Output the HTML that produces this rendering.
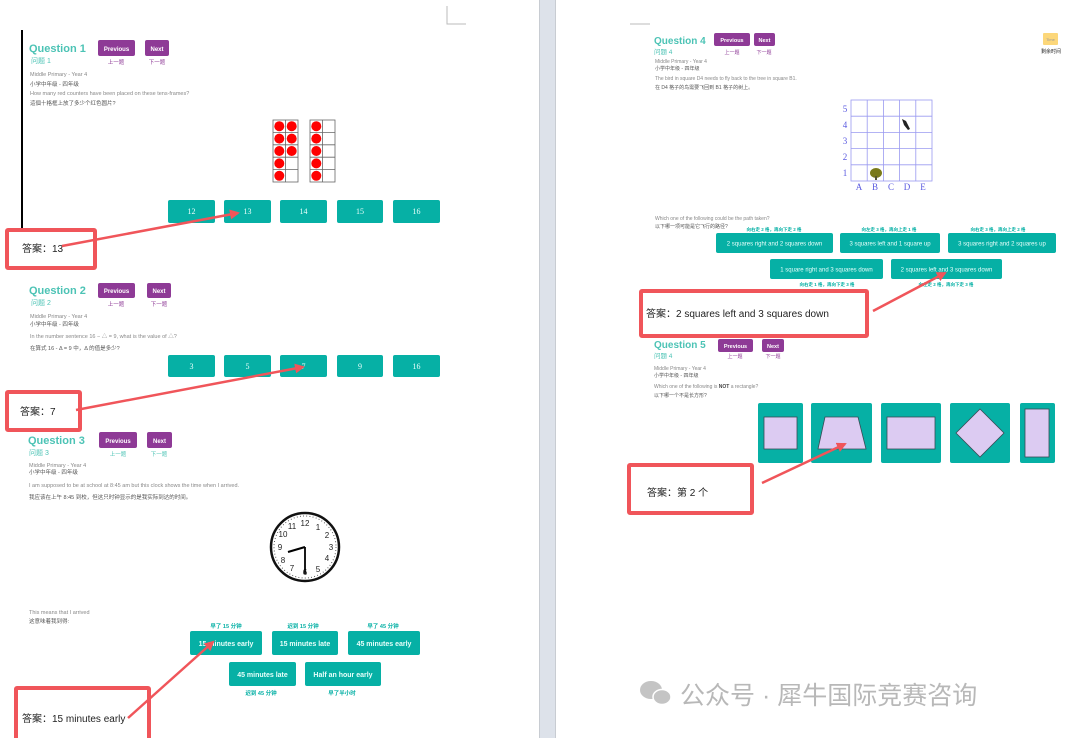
<!DOCTYPE html>
<html><head><meta charset="utf-8"><style>
html,body{margin:0;padding:0;background:#fff;}
svg{display:block;font-family:"Liberation Sans","Noto Sans CJK SC",sans-serif;}
</style></head><body>
<svg width="1080" height="738" viewBox="0 0 1080 738" xmlns="http://www.w3.org/2000/svg">
<defs>
<marker id="ah" markerWidth="10" markerHeight="10" refX="8" refY="5" orient="auto" markerUnits="userSpaceOnUse"><path d="M0,0 L10,5 L0,10 z" fill="#f0555a"/></marker>
</defs>
<rect x="0" y="0" width="1080" height="738" fill="#fff"/>
<rect x="539" y="0" width="17" height="738" fill="#dde2ea"/>
<line x1="539.5" y1="0" x2="539.5" y2="738" stroke="#c8ccd2"/>
<line x1="555.5" y1="0" x2="555.5" y2="738" stroke="#c8ccd2"/>
<path d="M447,6 V24 H466" fill="none" stroke="#bbb"/>
<path d="M630,24 H650" fill="none" stroke="#bbb"/>
<line x1="22" y1="30" x2="22" y2="228" stroke="#000" stroke-width="2"/>

<g font-size="5.5" fill="#888">
<!-- Q1 -->
<text x="29" y="52" font-size="11" font-weight="bold" fill="#4cc3b5">Question 1</text>
<text x="31" y="63" font-size="7" fill="#4cc3b5">问题 1</text>
<rect x="98" y="40" width="37" height="16" rx="2" fill="#8e3a96"/><text x="116.5" y="51" font-size="6" fill="#fff" text-anchor="middle" font-weight="bold">Previous</text>
<rect x="145" y="40" width="24" height="16" rx="2" fill="#8e3a96"/><text x="157" y="51" font-size="6" fill="#fff" text-anchor="middle" font-weight="bold">Next</text>
<text x="116" y="64" fill="#8e3a96" text-anchor="middle">上一题</text><text x="157" y="64" fill="#8e3a96" text-anchor="middle">下一题</text>
<text x="30" y="76">Middle Primary - Year 4</text>
<text x="30" y="86" fill="#555">小学中年级 - 四年级</text>
<text x="30" y="95">How many red counters have been placed on these tens-frames?</text>
<text x="30" y="105" fill="#555">這個十格框上放了多少个红色圆片?</text>
</g>
<g stroke="#666" stroke-width="0.8" fill="#fff">
<rect x="273" y="120" width="25" height="62"/><rect x="310" y="120" width="25" height="62"/>
<path d="M285.5,120V182M273,132.4H298M273,144.8H298M273,157.2H298M273,169.6H298"/>
<path d="M322.5,120V182M310,132.4H335M310,144.8H335M310,157.2H335M310,169.6H335"/>
</g>
<g fill="#f00">
<circle cx="279.3" cy="126.2" r="5"/><circle cx="291.7" cy="126.2" r="5"/>
<circle cx="279.3" cy="138.6" r="5"/><circle cx="291.7" cy="138.6" r="5"/>
<circle cx="279.3" cy="151" r="5"/><circle cx="291.7" cy="151" r="5"/>
<circle cx="279.3" cy="163.4" r="5"/><circle cx="279.3" cy="175.8" r="5"/>
<circle cx="316.3" cy="126.2" r="5"/><circle cx="316.3" cy="138.6" r="5"/><circle cx="316.3" cy="151" r="5"/><circle cx="316.3" cy="163.4" r="5"/><circle cx="316.3" cy="175.8" r="5"/>
</g>
<g fill="#06b0a5">
<rect x="168" y="200" width="47" height="23" rx="2"/><rect x="224" y="200" width="47" height="23" rx="2"/><rect x="280" y="200" width="47" height="23" rx="2"/><rect x="337" y="200" width="46" height="23" rx="2"/><rect x="393" y="200" width="47" height="23" rx="2"/>
<rect x="168" y="355" width="47" height="22" rx="2"/><rect x="224" y="355" width="47" height="22" rx="2"/><rect x="280" y="355" width="47" height="22" rx="2"/><rect x="337" y="355" width="46" height="22" rx="2"/><rect x="393" y="355" width="47" height="22" rx="2"/>
</g>
<g fill="#e8fffb" font-size="8" text-anchor="middle" font-family="Liberation Serif,serif">
<text x="191.5" y="214">12</text><text x="247.5" y="214">13</text><text x="303.5" y="214">14</text><text x="360" y="214">15</text><text x="416.5" y="214">16</text>
<text x="191.5" y="369">3</text><text x="247.5" y="369">5</text><text x="303.5" y="369">7</text><text x="360" y="369">9</text><text x="416.5" y="369">16</text>
</g>

<!-- Q2 -->
<g font-size="5.5" fill="#888">
<text x="29" y="294" font-size="11" font-weight="bold" fill="#4cc3b5">Question 2</text>
<text x="31" y="305" font-size="7" fill="#4cc3b5">问题 2</text>
<rect x="98" y="283" width="37" height="15" rx="2" fill="#8e3a96"/><text x="116.5" y="293" font-size="6" fill="#fff" text-anchor="middle" font-weight="bold">Previous</text>
<rect x="147" y="283" width="24" height="15" rx="2" fill="#8e3a96"/><text x="159" y="293" font-size="6" fill="#fff" text-anchor="middle" font-weight="bold">Next</text>
<text x="116" y="306" fill="#8e3a96" text-anchor="middle">上一题</text><text x="159" y="306" fill="#8e3a96" text-anchor="middle">下一题</text>
<text x="30" y="318">Middle Primary - Year 4</text>
<text x="30" y="326" fill="#555">小学中年级 - 四年级</text>
<text x="30" y="338">In the number sentence 16 − △ = 9, what is the value of △?</text>
<text x="30" y="350" fill="#555">在算式 16 - Δ = 9 中，Δ 的值是多少?</text>

<!-- Q3 -->
<text x="28" y="444" font-size="11" font-weight="bold" fill="#4cc3b5">Question 3</text>
<text x="29" y="455" font-size="7" fill="#4cc3b5">问题 3</text>
<rect x="99" y="432" width="38" height="16" rx="2" fill="#8e3a96"/><text x="118" y="443" font-size="6" fill="#fff" text-anchor="middle" font-weight="bold">Previous</text>
<rect x="147" y="432" width="25" height="16" rx="2" fill="#8e3a96"/><text x="159.5" y="443" font-size="6" fill="#fff" text-anchor="middle" font-weight="bold">Next</text>
<text x="118" y="456" fill="#4cc3b5" text-anchor="middle">上一题</text><text x="159" y="456" fill="#4cc3b5" text-anchor="middle">下一题</text>
<text x="29" y="467">Middle Primary - Year 4</text>
<text x="29" y="474" fill="#555">小学中年级 - 四年级</text>
<text x="29" y="487">I am supposed to be at school at 8:45 am but this clock shows the time when I arrived.</text>
<text x="29" y="499" fill="#555">我应该在上午 8:45 到校，但这只时钟显示的是我实际到达的时间。</text>
<text x="29" y="614">This means that I arrived</text>
<text x="29" y="623" fill="#555">这意味着我到得:</text>
</g>
<g>
<circle cx="305" cy="547" r="34" fill="#fff" stroke="#111" stroke-width="2.5"/>
<circle cx="305" cy="547" r="31" fill="none" stroke="#333" stroke-width="1" stroke-dasharray="0.8 2.4"/>
<g font-size="8" fill="#222" text-anchor="middle" font-family="Liberation Sans,sans-serif">
<text x="305" y="526">12</text><text x="318" y="530">1</text><text x="327" y="538">2</text><text x="331" y="550">3</text><text x="327" y="561">4</text><text x="318" y="572">5</text><text x="305" y="575">6</text><text x="292" y="571">7</text><text x="283" y="563">8</text><text x="280" y="550">9</text><text x="283" y="537">10</text><text x="292" y="529">11</text>
</g>
<line x1="305" y1="547" x2="288" y2="552" stroke="#000" stroke-width="2.2"/>
<line x1="305" y1="547" x2="305" y2="574" stroke="#000" stroke-width="1.8"/>
</g>
<g fill="#06b0a5">
<rect x="190" y="631" width="72" height="24" rx="2"/><rect x="272" y="631" width="66" height="24" rx="2"/><rect x="348" y="631" width="72" height="24" rx="2"/>
<rect x="229" y="662" width="67" height="24" rx="2"/><rect x="305" y="662" width="76" height="24" rx="2"/>
</g>
<g font-size="7" text-anchor="middle" fill="#e8fffb" font-weight="bold">
<text x="226" y="646">15 minutes early</text><text x="305" y="646">15 minutes late</text><text x="384" y="646">45 minutes early</text>
<text x="262.5" y="677">45 minutes late</text><text x="343" y="677">Half an hour early</text>
</g>
<g font-size="5.5" text-anchor="middle" fill="#06b0a5" font-weight="bold">
<text x="226" y="628">早了 15 分钟</text><text x="303" y="628">迟到 15 分钟</text><text x="383" y="628">早了 45 分钟</text>
<text x="261" y="695">迟到 45 分钟</text><text x="342" y="695">早了半小时</text>
</g>

<!-- Right page Q4 -->
<g font-size="5" fill="#888">
<text x="654" y="44" font-size="10" font-weight="bold" fill="#4cc3b5">Question 4</text>
<text x="654" y="54" font-size="6.5" fill="#4cc3b5">问题 4</text>
<rect x="714" y="33" width="36" height="13" rx="2" fill="#8e3a96"/><text x="732" y="42" font-size="5.5" fill="#fff" text-anchor="middle" font-weight="bold">Previous</text>
<rect x="754" y="33" width="21" height="13" rx="2" fill="#8e3a96"/><text x="764.5" y="42" font-size="5.5" fill="#fff" text-anchor="middle" font-weight="bold">Next</text>
<text x="732" y="54" fill="#8e3a96" text-anchor="middle">上一题</text><text x="764" y="54" fill="#8e3a96" text-anchor="middle">下一题</text>
<rect x="1043" y="33" width="15" height="12" rx="1" fill="#fcd77a"/><text x="1050.5" y="41" font-size="4" fill="#999" text-anchor="middle">Time</text>
<text x="1051" y="53" font-size="5" fill="#222" text-anchor="middle">剩余时间</text>
<text x="655" y="63">Middle Primary - Year 4</text>
<text x="655" y="70" fill="#555">小学中年级 - 四年级</text>
<text x="655" y="80">The bird in square D4 needs to fly back to the tree in square B1.</text>
<text x="655" y="89" fill="#555">在 D4 格子的鸟需要飞回到 B1 格子的树上。</text>
<text x="655" y="220">Which one of the following could be the path taken?</text>
<text x="655" y="228" fill="#555">以下哪一项可能是它飞行的路径?</text>
</g>
<g stroke="#9a9af0" stroke-width="0.8" fill="none">
<rect x="851" y="100" width="81" height="81"/>
<path d="M867.2,100V181M883.4,100V181M899.6,100V181M915.8,100V181M851,116.2H932M851,132.4H932M851,148.6H932M851,164.8H932"/>
</g>
<g font-family="Liberation Serif,serif" font-size="9" fill="#5a5ae0" text-anchor="middle">
<text x="845" y="112">5</text><text x="845" y="128">4</text><text x="845" y="144">3</text><text x="845" y="160">2</text><text x="845" y="176">1</text>
<text x="859" y="190">A</text><text x="875" y="190">B</text><text x="891" y="190">C</text><text x="907" y="190">D</text><text x="923" y="190">E</text>
</g>
<ellipse cx="876" cy="173" rx="6" ry="5" fill="#7a7a1a"/><rect x="875" y="176" width="2" height="4" fill="#553"/>
<path d="M902,119 l4,2 l4,8 l-2,1 l-4,-5 z" fill="#222"/>
<g fill="#06b0a5">
<rect x="716" y="233" width="117" height="20" rx="2"/><rect x="840" y="233" width="100" height="20" rx="2"/><rect x="948" y="233" width="108" height="20" rx="2"/>
<rect x="770" y="259" width="113" height="20" rx="2"/><rect x="891" y="259" width="111" height="20" rx="2"/>
</g>
<g font-size="6" text-anchor="middle" fill="#e8fffb">
<text x="774.5" y="245.5">2 squares right and 2 squares down</text><text x="890" y="245.5">3 squares left and 1 square up</text><text x="1002" y="245.5">3 squares right and 2 squares up</text>
<text x="826.5" y="271.5">1 square right and 3 squares down</text><text x="946.5" y="271.5">2 squares left and 3 squares down</text>
</g>
<g font-size="4.5" text-anchor="middle" fill="#06b0a5" font-weight="bold">
<text x="774" y="231">向右走 2 格，再向下走 2 格</text><text x="889" y="231">向左走 3 格，再向上走 1 格</text><text x="998" y="231">向右走 3 格，再向上走 2 格</text>
<text x="827" y="286">向右走 1 格，再向下走 3 格</text><text x="946" y="286">向左走 2 格，再向下走 3 格</text>
</g>

<!-- Q5 -->
<g font-size="5" fill="#888">
<text x="654" y="348" font-size="10" font-weight="bold" fill="#4cc3b5">Question 5</text>
<text x="654" y="358" font-size="6.5" fill="#4cc3b5">问题 4</text>
<rect x="718" y="339" width="35" height="13" rx="2" fill="#8e3a96"/><text x="735.5" y="348" font-size="5.5" fill="#fff" text-anchor="middle" font-weight="bold">Previous</text>
<rect x="762" y="339" width="22" height="13" rx="2" fill="#8e3a96"/><text x="773" y="348" font-size="5.5" fill="#fff" text-anchor="middle" font-weight="bold">Next</text>
<text x="735" y="358" fill="#8e3a96" text-anchor="middle">上一题</text><text x="773" y="358" fill="#8e3a96" text-anchor="middle">下一题</text>
<text x="654" y="370">Middle Primary - Year 4</text>
<text x="654" y="377" fill="#555">小学中年级 - 四年级</text>
<text x="654" y="388">Which one of the following is <tspan font-weight="bold" fill="#444">NOT</tspan> a rectangle?</text>
<text x="654" y="397" fill="#555">以下哪一个不是长方形?</text>
</g>
<g fill="#06b0a5">
<rect x="758" y="403" width="45" height="60" rx="2"/><rect x="811" y="403" width="61" height="60" rx="2"/><rect x="881" y="403" width="60" height="60" rx="2"/><rect x="950" y="403" width="60" height="60" rx="2"/><rect x="1020" y="403" width="35" height="60" rx="2"/>
</g>
<g fill="#dccbf2" stroke="#3a4a55" stroke-width="0.8">
<rect x="764" y="417" width="33" height="32"/>
<path d="M825,417 H858 L866,449 H818 Z"/>
<rect x="887" y="417" width="48" height="32"/>
<path d="M980,409 L1004,433 L980,457 L956,433 Z"/>
<rect x="1025" y="409" width="24" height="48"/>
</g>

<!-- Answer boxes -->
<g fill="none" stroke="#f0555a" stroke-width="4">
<rect x="7" y="230" width="88" height="38" rx="1"/>
<rect x="7" y="392" width="73" height="38" rx="1"/>
<rect x="16" y="688" width="133" height="52" rx="1"/>
<rect x="641" y="291" width="226" height="45" rx="1"/>
<rect x="629" y="465" width="123" height="48" rx="1"/>
</g>
<g font-size="10" fill="#222">
<text x="22" y="252">答案：13</text>
<text x="20" y="415">答案：7</text>
<text x="22" y="722">答案：15 minutes early</text>
<text x="646" y="317">答案：2 squares left and 3 squares down</text>
<text x="647" y="496">答案：第 2 个</text>
</g>
<g stroke="#f0555a" stroke-width="2.5" fill="none" marker-end="url(#ah)">
<line x1="62" y1="246" x2="238" y2="213"/>
<line x1="76" y1="410" x2="303" y2="367"/>
<line x1="128" y1="718" x2="213" y2="642"/>
<line x1="873" y1="311" x2="945" y2="273"/>
<line x1="762" y1="483" x2="845" y2="444"/>
</g>

<!-- watermark -->
<g fill="#c4c4c4">
<ellipse cx="651" cy="690" rx="11" ry="9"/><ellipse cx="662" cy="697" rx="9" ry="7.5" stroke="#fff" stroke-width="1.5"/>
</g>
<text x="680" y="704" font-size="25" fill="#b8b8b8">公众号 · 犀牛国际竞赛咨询</text>
</svg>
</body></html>
